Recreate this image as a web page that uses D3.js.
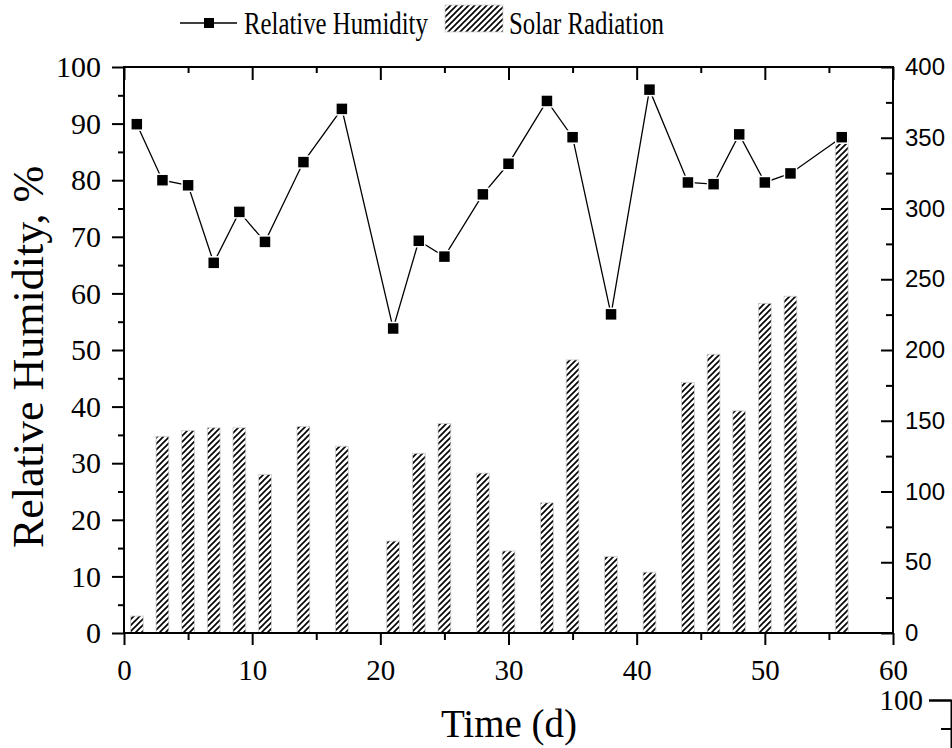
<!DOCTYPE html>
<html>
<head>
<meta charset="utf-8">
<script src="https://cdn.jsdelivr.net/npm/d3@7"></script>
<style>
  body { margin: 0; background: #fff; }
  svg { display: block; }
</style>
</head>
<body>
<script>
// sampling days (x), humidity (left axis, %), solar radiation (right axis)
const days = [1, 3, 5, 7, 9, 11, 14, 17, 21, 23, 25, 28, 30, 33, 35, 38, 41, 44, 46, 48, 50, 52, 56]
const humidity = [89.9, 80.0, 79.1, 65.4, 74.4, 69.1, 83.2, 92.6, 53.8, 69.3, 66.5, 77.5, 82.9, 94.0, 87.6, 56.3, 96.0, 79.6, 79.3, 88.1, 79.6, 81.2, 87.6]
const radiation = [12, 139, 143, 145, 145, 112, 146, 132, 65, 127, 148, 113, 58, 92, 193, 54, 43, 177, 197, 157, 233, 238, 350]

const xTicks = [0, 10, 20, 30, 40, 50, 60]
const xMinor = [5, 15, 25, 35, 45, 55]
const leftTicks = [0, 10, 20, 30, 40, 50, 60, 70, 80, 90, 100]
const leftMinor = [5, 15, 25, 35, 45, 55, 65, 75, 85, 95]
const rightTicks = [0, 50, 100, 150, 200, 250, 300, 350, 400]
const rightMinor = [25, 75, 125, 175, 225, 275, 325, 375]
const legendLabels = ['Relative Humidity', 'Solar Radiation']
const xTitle = 'Time (d)'
const yTitle = 'Relative Humidity, %'

const width = 952
const height = 748
const serif = '"Liberation Serif", "Times New Roman", serif'
const sans = '"Liberation Sans", Arial, sans-serif'

const svg = d3.select('body').append('svg').attr('width', width).attr('height', height)

const defs = svg.append('defs')
const pat = defs.append('pattern').attr('id', 'hatch')
  .attr('patternUnits', 'userSpaceOnUse').attr('width', 6).attr('height', 6)
pat.append('rect').attr('width', 6).attr('height', 6).attr('fill', '#fff')
pat.append('path').attr('d', 'M-1,7 L7,-1 M-4,4 L4,-4 M2,10 L10,2')
  .attr('stroke', '#000').attr('stroke-width', 1.6)

const xScale = d3.scaleLinear().domain([0, 60]).range([124, 893])
const yLeft = d3.scaleLinear().domain([0, 100]).range([633, 67])
const yRight = d3.scaleLinear().domain([0, 400]).range([633, 67])

// bars
const bw = xScale(1) - xScale(0)
svg.append('g').selectAll('rect').data(days).enter().append('rect')
  .attr('x', (d) => xScale(d) - bw / 2)
  .attr('y', (d, i) => yRight(radiation[i]))
  .attr('width', bw)
  .attr('height', (d, i) => yRight(0) - yRight(radiation[i]))
  .attr('fill', 'url(#hatch)')
  .attr('stroke', '#cfcfcf')
  .attr('stroke-width', 0.8)

// humidity line
const line = d3.line().x((d) => xScale(d)).y((d, i) => yLeft(humidity[i]))
svg.append('path').datum(days).attr('d', line)
  .attr('fill', 'none').attr('stroke', '#000').attr('stroke-width', 1.3)
svg.append('g').selectAll('rect').data(days).enter().append('rect')
  .attr('x', (d) => xScale(d) - 6)
  .attr('y', (d, i) => yLeft(humidity[i]) - 6)
  .attr('width', 12).attr('height', 12)
  .attr('fill', '#000').attr('stroke', '#fff').attr('stroke-width', 1.5)

// axes helper
function styleAxis(g) {
  g.select('.domain').remove()
  g.selectAll('line').attr('stroke', '#000').attr('stroke-width', 2)
}

// bottom
svg.append('g').attr('transform', 'translate(0,633)')
  .call(d3.axisBottom(xScale).tickValues(xTicks).tickSize(12).tickPadding(14).tickFormat(d3.format('d')))
  .call(styleAxis)
  .selectAll('text').attr('font-family', serif).attr('font-size', 29).attr('fill', '#000')
svg.append('g').attr('transform', 'translate(0,633)')
  .call(d3.axisBottom(xScale).tickValues(xMinor).tickSize(7).tickFormat(''))
  .call(styleAxis)
// top
svg.append('g').attr('transform', 'translate(0,67)')
  .call(d3.axisBottom(xScale).tickValues(xTicks).tickSize(13).tickFormat(''))
  .call(styleAxis)
svg.append('g').attr('transform', 'translate(0,67)')
  .call(d3.axisBottom(xScale).tickValues(xMinor).tickSize(6).tickFormat(''))
  .call(styleAxis)
// left
svg.append('g').attr('transform', 'translate(124,0)')
  .call(d3.axisLeft(yLeft).tickValues(leftTicks).tickSize(12).tickPadding(11).tickFormat(d3.format('d')))
  .call(styleAxis)
  .selectAll('text').attr('font-family', serif).attr('font-size', 30).attr('fill', '#000')
svg.append('g').attr('transform', 'translate(124,0)')
  .call(d3.axisLeft(yLeft).tickValues(leftMinor).tickSize(6).tickFormat(''))
  .call(styleAxis)
// right
const rAxis = svg.append('g').attr('transform', 'translate(893,0)')
  .call(d3.axisLeft(yRight).tickValues(rightTicks).tickSize(12).tickFormat(d3.format('d')))
  .call(styleAxis)
rAxis.selectAll('text').attr('x', 12).attr('text-anchor', 'start')
  .attr('font-family', sans).attr('font-size', 24).attr('fill', '#000')
svg.append('g').attr('transform', 'translate(893,0)')
  .call(d3.axisLeft(yRight).tickValues(rightMinor).tickSize(7).tickFormat(''))
  .call(styleAxis)

// frame
svg.append('rect').attr('x', 124).attr('y', 67).attr('width', 769).attr('height', 566)
  .attr('fill', 'none').attr('stroke', '#000').attr('stroke-width', 2)

// titles
svg.append('text').attr('transform', 'translate(43,357) rotate(-90)')
  .attr('text-anchor', 'middle').attr('font-family', serif).attr('font-size', 44)
  .text(yTitle)
svg.append('text').attr('x', 509).attr('y', 737)
  .attr('text-anchor', 'middle').attr('font-family', serif).attr('font-size', 39)
  .text(xTitle)

// legend
const lg = svg.append('g')
lg.append('line').attr('x1', 180).attr('x2', 237).attr('y1', 23).attr('y2', 23)
  .attr('stroke', '#000').attr('stroke-width', 1.3)
lg.append('rect').attr('x', 204).attr('y', 18).attr('width', 10).attr('height', 10).attr('fill', '#000')
lg.append('text').attr('transform', 'translate(244,34) scale(0.8,1)')
  .attr('font-family', serif).attr('font-size', 31).text(legendLabels[0])
lg.append('rect').attr('x', 445).attr('y', 5).attr('width', 58).attr('height', 27)
  .attr('fill', 'url(#hatch)').attr('stroke', '#cfcfcf').attr('stroke-width', 0.8)
lg.append('text').attr('transform', 'translate(509,34) scale(0.8,1)')
  .attr('font-family', serif).attr('font-size', 31).text(legendLabels[1])

// edge of the neighbouring panel, cut off at the bottom right
const yNext = d3.scaleLinear().domain([80, 100]).range([814, 700])
svg.append('g').attr('transform', 'translate(951,0)')
  .call(d3.axisLeft(yNext).tickValues([90, 100]).tickSize(22).tickPadding(6).tickFormat(d3.format('d')))
  .call((g) => g.select('.domain').attr('stroke', '#000').attr('stroke-width', 2))
  .call((g) => g.selectAll('line').attr('stroke', '#000').attr('stroke-width', 2))
  .selectAll('text').attr('font-family', serif).attr('font-size', 29).attr('fill', '#000')
svg.append('g').attr('transform', 'translate(951,0)')
  .call(d3.axisLeft(yNext).tickValues([95]).tickSize(10).tickFormat(''))
  .call(styleAxis)
</script>
</body>
</html>
